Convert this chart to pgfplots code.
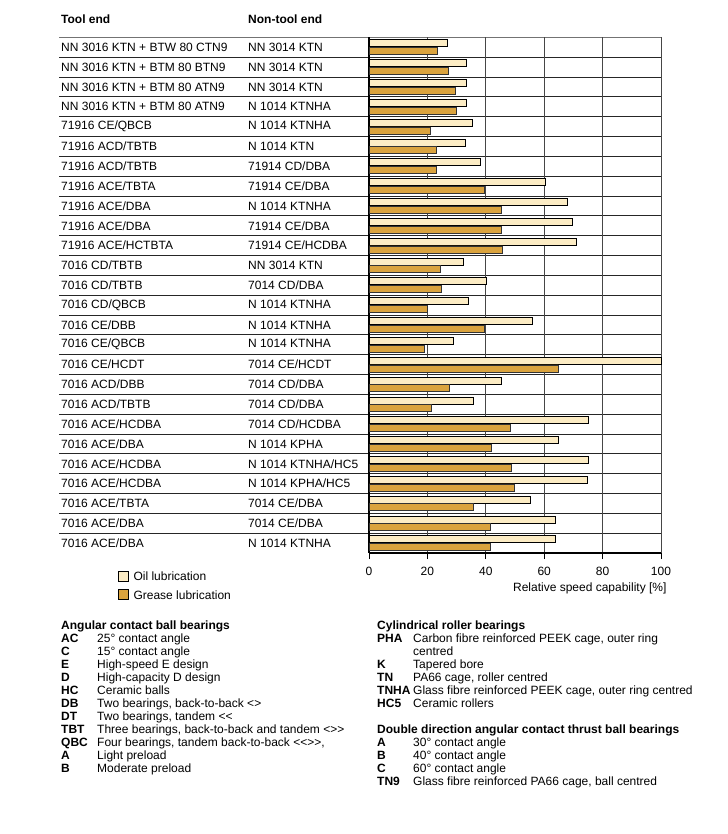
\documentclass[border=0pt]{standalone}
\usepackage{pgfplots}
\pgfplotsset{compat=1.18}
\usepackage{pgfplotstable}
\usepackage{fontspec}
\setmainfont{Liberation Sans}
\definecolor{oil}{RGB}{252,236,196}
\definecolor{grease}{RGB}{218,163,62}
\definecolor{gridc}{RGB}{70,70,70}
\newcommand\lab[2]{\makebox[187bp][l]{#1}#2}

\pgfplotstableread{
row oil
1 27
2 33.4
3 33.4
4 33.5
5 35.3
6 33
7 38.1
8 60.4
9 68
10 69.8
11 71.1
12 32.4
13 40.2
14 34.1
15 56
16 29
17 100
18 45.4
19 35.8
20 75.2
21 65
22 75.2
23 74.9
24 55.2
25 63.9
26 63.9
}\oildata

\pgfplotstableread{
row grease
1 23.4
2 27.2
3 29.7
4 29.8
5 21
6 22.9
7 22.9
8 39.5
9 45.3
10 45.3
11 45.8
12 24.4
13 24.8
14 20
15 39.6
16 18.9
17 64.8
18 27.5
19 21.5
20 48.5
21 42
22 48.9
23 49.9
24 35.8
25 41.7
26 41.7
}\greasedata

\begin{document}
\begin{tikzpicture}[font=\fontsize{12bp}{14bp}\selectfont]
\begin{scope}[x=1bp,y=-1bp]
\useasboundingbox (0,0) rectangle (728,834);
\fill[white] (0,0) rectangle (728,834);
\foreach \k in {1,...,25} \draw[line width=0.7bp, black!85] (59,{37.3+\k*19.83}) -- (661,{37.3+\k*19.83});
\draw[line width=1.6bp, black!55] (59,37.3) -- (661,37.3);
\node[anchor=base west, inner sep=0, font=\fontsize{12bp}{14bp}\selectfont\bfseries] at (61,23.8) {Tool end};
\node[anchor=base west, inner sep=0, font=\fontsize{12bp}{14bp}\selectfont\bfseries] at (248,23.8) {Non-tool end};
\end{scope}
\begin{axis}[
  at={(369bp,-553bp)}, anchor=south west,
  scale only axis, width=292bp, height=515.7bp,
  xmin=0, xmax=100, ymin=0.5, ymax=26.5, y dir=reverse,
  xbar, bar width=7bp,
  axis x line*=bottom, axis y line*=left,
  axis line style={line width=2.6bp, black, -},
  xtick={0,20,...,100}, xtick align=outside, major tick length=6bp,
  xtick style={line width=0.8bp, black},
  xmajorgrids, major grid style={line width=0.7bp, gridc},
  ytick={1,...,26}, ytick style={draw=none},
  yticklabels={
    \lab{NN 3016 KTN + BTW 80 CTN9}{NN 3014 KTN},
    \lab{NN 3016 KTN + BTM 80 BTN9}{NN 3014 KTN},
    \lab{NN 3016 KTN + BTM 80 ATN9}{NN 3014 KTN},
    \lab{NN 3016 KTN + BTM 80 ATN9}{N 1014 KTNHA},
    \lab{71916 CE/QBCB}{N 1014 KTNHA},
    \lab{71916 ACD/TBTB}{N 1014 KTN},
    \lab{71916 ACD/TBTB}{71914 CD/DBA},
    \lab{71916 ACE/TBTA}{71914 CE/DBA},
    \lab{71916 ACE/DBA}{N 1014 KTNHA},
    \lab{71916 ACE/DBA}{71914 CE/DBA},
    \lab{71916 ACE/HCTBTA}{71914 CE/HCDBA},
    \lab{7016 CD/TBTB}{NN 3014 KTN},
    \lab{7016 CD/TBTB}{7014 CD/DBA},
    \lab{7016 CD/QBCB}{N 1014 KTNHA},
    \lab{7016 CE/DBB}{N 1014 KTNHA},
    \lab{7016 CE/QBCB}{N 1014 KTNHA},
    \lab{7016 CE/HCDT}{7014 CE/HCDT},
    \lab{7016 ACD/DBB}{7014 CD/DBA},
    \lab{7016 ACD/TBTB}{7014 CD/DBA},
    \lab{7016 ACE/HCDBA}{7014 CD/HCDBA},
    \lab{7016 ACE/DBA}{N 1014 KPHA},
    \lab{7016 ACE/HCDBA}{N 1014 KTNHA/HC5},
    \lab{7016 ACE/HCDBA}{N 1014 KPHA/HC5},
    \lab{7016 ACE/TBTA}{7014 CE/DBA},
    \lab{7016 ACE/DBA}{7014 CE/DBA},
    \lab{7016 ACE/DBA}{N 1014 KTNHA}},
  yticklabel style={anchor=west, inner sep=0pt, xshift=-302bp},
  xticklabel style={inner sep=0pt, yshift=-7.5bp},
  /pgf/number format/assume math mode=true,
  xlabel={Relative speed capability [\%]},
  xlabel style={at={(axis description cs:1.0195,-0.068)}, anchor=east, inner sep=0pt},
  legend cell align=left,
  legend style={at={(axis description cs:-0.8606,-0.034)}, anchor=north west,
    draw=none, fill=none, inner sep=0pt, row sep=8bp,
    nodes={inner sep=0pt, text depth=0pt}},
  clip=false,
]
\addplot[draw=black, line width=0.7bp, fill=oil, bar shift=3.9bp,
  legend image code/.code={\draw[draw=black,line width=0.6bp,fill=oil] (0bp,-5bp) rectangle (10bp,5bp); \path (15bp,0bp);}]
  table[x=oil,y=row]{\oildata};
\addplot[draw=black!80, line width=0.7bp, fill=grease, bar shift=-3.9bp,
  legend image code/.code={\draw[draw=black,line width=0.6bp,fill=grease] (0bp,-5bp) rectangle (10bp,5bp); \path (15bp,0bp);}]
  table[x=grease,y=row]{\greasedata};
\legend{Oil lubrication, Grease lubrication}
\end{axis}
\begin{scope}[x=1bp,y=-1bp]
\node[anchor=base west, inner sep=0, font=\fontsize{12bp}{13bp}\selectfont] at (61,629.7) {%
\begin{tabular}[t]{@{}p{36bp}@{}l@{}}
\multicolumn{2}{@{}l@{}}{\bfseries Angular contact ball bearings}\\
\textbf{AC} & 25° contact angle\\
\textbf{C} & 15° contact angle\\
\textbf{E} & High-speed E design\\
\textbf{D} & High-capacity D design\\
\textbf{HC} & Ceramic balls\\
\textbf{DB} & Two bearings, back-to-back <>\\
\textbf{DT} & Two bearings, tandem <{}<\\
\textbf{TBT} & Three bearings, back-to-back and tandem <>{}>\\
\textbf{QBC} & Four bearings, tandem back-to-back <{}<>{}>,\\
\textbf{A} & Light preload\\
\textbf{B} & Moderate preload\\
\end{tabular}};
\node[anchor=base west, inner sep=0, font=\fontsize{12bp}{13bp}\selectfont] at (377,629.7) {%
\begin{tabular}[t]{@{}p{36bp}@{}l@{}}
\multicolumn{2}{@{}l@{}}{\bfseries Cylindrical roller bearings}\\
\textbf{PHA} & Carbon fibre reinforced PEEK cage, outer ring\\
 & centred\\
\textbf{K} & Tapered bore\\
\textbf{TN} & PA66 cage, roller centred\\
\textbf{TNHA} & Glass fibre reinforced PEEK cage, outer ring centred\\
\textbf{HC5} & Ceramic rollers\\
 & \\
\multicolumn{2}{@{}l@{}}{\bfseries Double direction angular contact thrust ball bearings}\\
\textbf{A} & 30° contact angle\\
\textbf{B} & 40° contact angle\\
\textbf{C} & 60° contact angle\\
\textbf{TN9} & Glass fibre reinforced PA66 cage, ball centred\\
\end{tabular}};
\end{scope}
\end{tikzpicture}
\end{document}
